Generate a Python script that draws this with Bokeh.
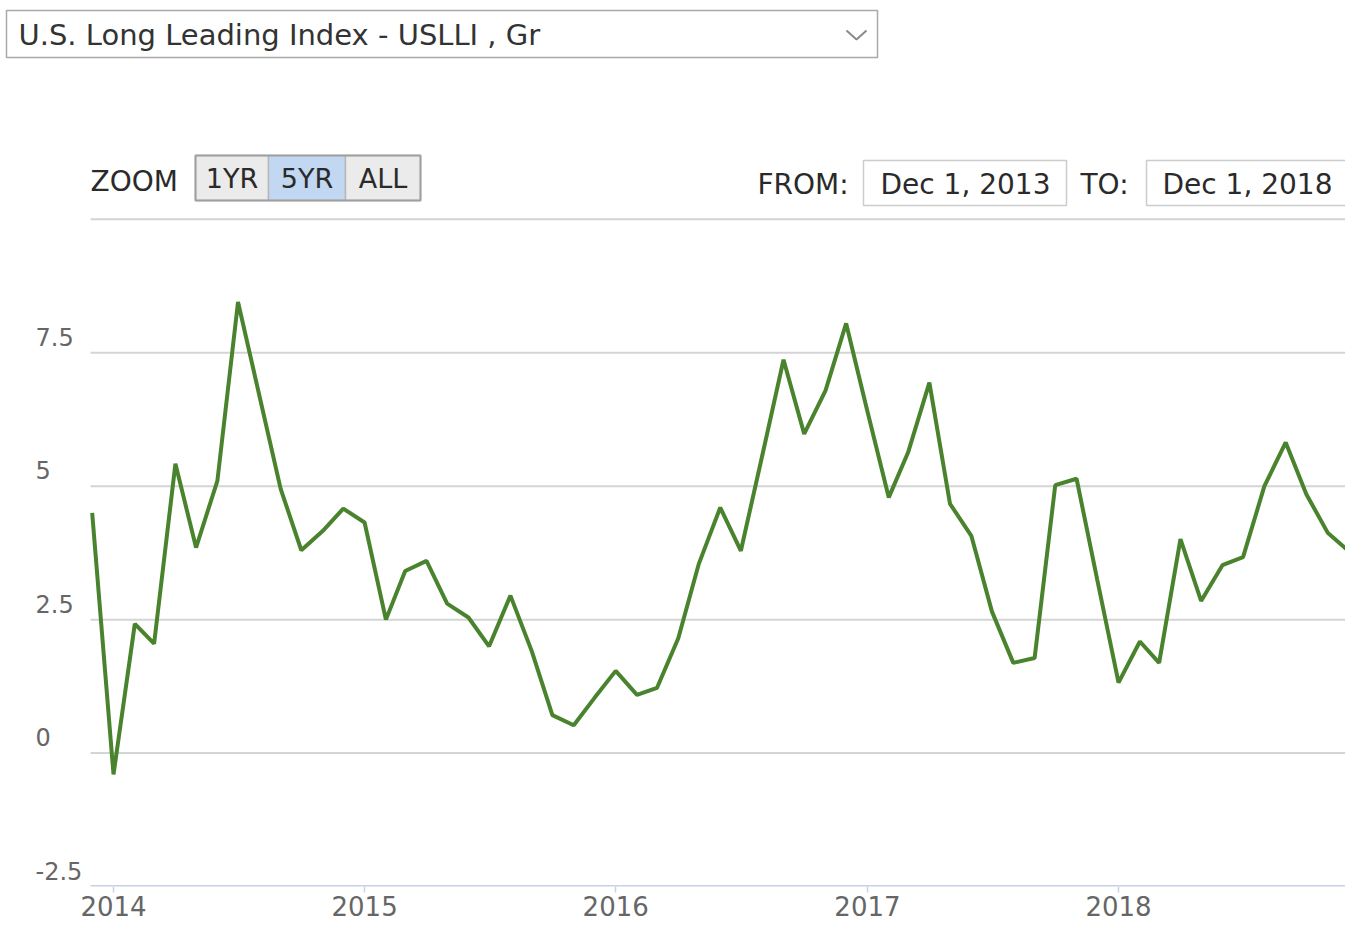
import pandas as pd
from bokeh.plotting import figure
from bokeh.models import Range1d, FixedTicker, DatetimeTickFormatter, ColumnDataSource
from bokeh.embed import file_html
from bokeh.resources import INLINE
from bokeh.core.properties import value

# ---------------- data ----------------
title_text = "U.S. Long Leading Index - USLLI , Gr"
zoom_label = "ZOOM"
zoom_buttons = ["1YR", "5YR", "ALL"]
selected_button = "5YR"
from_label = "FROM:"
to_label = "TO:"
from_text = "Dec 1, 2013"
to_text = "Dec 1, 2018"

start_month = "2013-12-01"
values = [4.5, -0.4, 2.42, 2.05, 5.42, 3.85, 5.1, 8.45, 6.7, 4.95,
          3.8, 4.16, 4.58, 4.32, 2.5, 3.41, 3.6, 2.8, 2.54, 2.0,
          2.95, 1.91, 0.71, 0.52, 1.03, 1.54, 1.09, 1.22, 2.15, 3.55,
          4.6, 3.79, 5.57, 7.37, 5.98, 6.79, 8.05, 6.4, 4.79, 5.63,
          6.94, 4.67, 4.07, 2.65, 1.69, 1.78, 5.02, 5.14, 3.25, 1.32,
          2.09, 1.69, 4.01, 2.85, 3.52, 3.67, 5.0, 5.82, 4.85, 4.13,
          3.79]
dates = pd.date_range(start_month, periods=len(values), freq="MS")

y_ticks = [-2.5, 0, 2.5, 5, 7.5]
y_tick_labels = ["-2.5", "0", "2.5", "5", "7.5"]
grid_ticks = [0, 2.5, 5, 7.5, 10]
x_tick_years = [2014, 2015, 2016, 2017, 2018]

FONT = value("DejaVu Sans")
W, H = 1345, 925
FRAME_H = 886          # expected frame height (axis below takes the rest)
PLOT_LEFT = 90         # left edge of the plotting area, in pixels

# ---------------- figure ----------------
x_start = pd.Timestamp("2013-07-20 17:30")
x_end = pd.Timestamp("2018-11-26 22:00")

p = figure(width=W, height=H, x_axis_type="datetime",
           x_range=Range1d(x_start, x_end), y_range=Range1d(-2.5, 14.1),
           toolbar_location=None, output_backend="svg",
           min_border_left=0, min_border_right=0, min_border_top=0,
           min_border_bottom=39)
p.outline_line_color = None
p.grid.visible = False
p.yaxis.visible = False

# pixel coordinate system for the chrome around the chart
p.extra_x_ranges = {"px": Range1d(0, W)}
p.extra_y_ranges = {"py": Range1d(FRAME_H, 0)}

# x axis
xt = [pd.Timestamp(f"{y}-01-01").value // 10**6 for y in x_tick_years]
p.xaxis.ticker = FixedTicker(ticks=xt)
p.xaxis.formatter = DatetimeTickFormatter(years="%Y", months="%Y", days="%Y",
                                          hours="%Y", hourmin="%Y")
p.xaxis.axis_line_color = None
p.xaxis.major_tick_line_color = "#c8d2e6"
p.xaxis.major_tick_line_width = 1.5
p.xaxis.major_tick_in = 0
p.xaxis.major_tick_out = 6
p.xaxis.minor_tick_line_color = None
p.xaxis.major_label_standoff = 3
p.xaxis.major_label_text_font = "DejaVu Sans"
p.xaxis.major_label_text_font_size = "26px"
p.xaxis.major_label_text_color = "#666666"

# horizontal grid lines and bottom axis line
p.segment(x0=[PLOT_LEFT] * len(grid_ticks), x1=[W] * len(grid_ticks),
          y0=grid_ticks, y1=grid_ticks, x_range_name="px",
          line_color="#d4d4d4", line_width=2)
p.segment(x0=[PLOT_LEFT], x1=[W], y0=[-2.5], y1=[-2.5], x_range_name="px",
          line_color="#c8d2e6", line_width=3)

# y tick labels (left aligned, sitting above their grid line)
p.text(x=[35] * len(y_ticks), y=y_ticks, text=y_tick_labels, x_range_name="px",
       text_font=FONT, text_font_size="24px", text_color="#666666",
       text_align="left", text_baseline="middle", y_offset=-16)

# data line
src = ColumnDataSource(dict(date=dates, v=values))
p.line("date", "v", source=src, line_color="#4a832e", line_width=4)

# ---------------- header chrome ----------------
kw = dict(x_range_name="px", y_range_name="py")
# dropdown
p.quad(left=[6], right=[877], top=[10], bottom=[57], fill_color="white",
       line_color="#a9a9a9", line_width=1.5, **kw)
p.text(x=[18], y=[34], text=[title_text], text_font=FONT, text_font_size="29px",
       text_baseline="middle", text_align="left", text_color="#333333", **kw)
p.line(x=[846, 856, 866], y=[30, 39, 30], line_color="#8a8a8a", line_width=2, **kw)

# zoom buttons
p.text(x=[90], y=[181], text=[zoom_label], text_font=FONT, text_font_size="28px",
       text_baseline="middle", text_align="left", text_color="#2a2a2a", **kw)
btn_left = [195, 268, 345]
btn_right = [268, 345, 420]
btn_fill = ["#c2d8f2" if b == selected_button else "#ebebeb" for b in zoom_buttons]
p.quad(left=btn_left, right=btn_right, top=[155] * 3, bottom=[200] * 3,
       fill_color=btn_fill, line_color="#b8b8b8", line_width=1.5, **kw)
p.quad(left=[195], right=[420], top=[155], bottom=[200], fill_color=None,
       line_color="#a0a0a0", line_width=2, **kw)
p.text(x=[(l + r) / 2 for l, r in zip(btn_left, btn_right)], y=[178] * 3,
       text=zoom_buttons, text_font=FONT, text_font_size="27px",
       text_baseline="middle", text_align="center", text_color="#2a2a2a", **kw)

# from / to
p.text(x=[757, 1080], y=[184, 184], text=[from_label, to_label], text_font=FONT,
       text_font_size="28px", text_baseline="middle", text_align="left",
       text_color="#2a2a2a", **kw)
p.quad(left=[863, 1146], right=[1066, 1352], top=[160, 160], bottom=[205, 205],
       fill_color="white", line_color="#cccccc", line_width=1.5, **kw)
p.text(x=[880, 1162], y=[184, 184], text=[from_text, to_text], text_font=FONT,
       text_font_size="28px", text_baseline="middle", text_align="left",
       text_color="#2a2a2a", **kw)

open("out.html", "w").write(file_html(p, INLINE))
